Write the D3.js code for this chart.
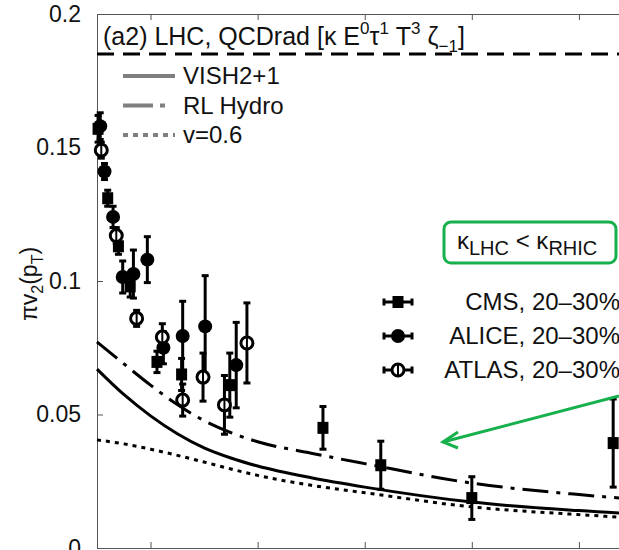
<!DOCTYPE html>
<meta charset="utf-8">
<title>LHC v2</title>
<style>
  body { margin: 0; background: #fff; }
  svg text { font-family: "Liberation Sans", Arial, sans-serif; fill: #111; }
</style>
<body>
<script src="https://d3js.org/d3.v7.min.js"></script>
<script type="text/javascript">

// ---- data (pT in GeV, y = pi*v2) ----
var curveX   = [5, 7.5, 10, 12.5, 15, 17.5, 20, 25, 30, 40, 50, 60];
var vishY    = [0.067, 0.0575, 0.0495, 0.0428, 0.0375, 0.0337, 0.0307, 0.0263, 0.0228, 0.0172, 0.0140, 0.0118];
var rlHydroY = [0.0772, 0.0690, 0.0610, 0.0537, 0.0477, 0.0432, 0.0398, 0.0355, 0.0316, 0.0243, 0.0200, 0.0170];
var v06Y     = [0.0405, 0.0390, 0.0370, 0.0347, 0.0322, 0.0296, 0.0272, 0.0235, 0.0207, 0.0154, 0.0125, 0.0102];

var cmsX   = [5.1, 6.0, 7.0, 8.1, 10.6, 12.9, 17.4, 26.1, 31.5, 40.0, 53.2];
var cmsY   = [0.157, 0.131, 0.113, 0.098, 0.0697, 0.065, 0.061, 0.045, 0.031, 0.0187, 0.0393];
var cmsErr = [0.005, 0.003, 0.003, 0.004, 0.004, 0.006, 0.012, 0.008, 0.009, 0.008, 0.0165];

var aliceX   = [5.3, 5.7, 6.5, 7.4, 8.4, 9.7, 11.2, 13.0, 15.1, 18.0];
var aliceY   = [0.158, 0.141, 0.124, 0.1015, 0.1026, 0.108, 0.075, 0.0794, 0.083, 0.0685];
var aliceErr = [0.005, 0.003, 0.004, 0.006, 0.009, 0.0086, 0.006, 0.013, 0.019, 0.016];

var atlasX   = [5.4, 6.8, 8.7, 11.1, 13.0, 14.9, 16.9, 19.0];
var atlasY   = [0.149, 0.117, 0.086, 0.079, 0.0554, 0.064, 0.0536, 0.0768];
var atlasErr = [0.003, 0.003, 0.003, 0.005, 0.006, 0.009, 0.011, 0.015];

var yTicks = [0, 0.05, 0.1, 0.15, 0.2];
var xTicks = [10, 20, 30, 40, 50];
var xDomain = [5, 60];
var yDomain = [0, 0.2];
var ceiling = 0.185;

var width = 619, height = 550;
var svg = d3.select("body").append("svg")
    .attr("width", width)
    .attr("height", height);

var x = d3.scaleLinear().domain(xDomain).range([97, 686]);
var y = d3.scaleLinear().domain(yDomain).range([548, 14]);

// frame + ticks
var axisColor = "#555";
svg.append("g").attr("transform", "translate(0,548)")
  .call(d3.axisBottom(x).tickValues(xTicks).tickSize(-6).tickFormat(""))
  .call(function(g){ g.selectAll("line,path").attr("stroke", axisColor); });
svg.append("g").attr("transform", "translate(0,14)")
  .call(d3.axisTop(x).tickValues(xTicks).tickSize(-6).tickFormat(""))
  .call(function(g){ g.selectAll("line,path").attr("stroke", axisColor); });
svg.append("g").attr("transform", "translate(97,0)")
  .call(d3.axisLeft(y).tickValues(yTicks).tickSize(-6).tickPadding(16)
        .tickFormat(function(d){ return d === 0 ? "0" : String(+d.toFixed(2)); }))
  .call(function(g){
    g.selectAll("line,path").attr("stroke", axisColor);
    g.selectAll("text").attr("font-size", 23).attr("font-family", "Liberation Sans, Arial, sans-serif").attr("fill", "#111");
  });

// y label
var yl = svg.append("text")
  .attr("transform", "translate(37," + 284 + ") rotate(-90)")
  .attr("text-anchor", "middle")
  .attr("font-size", 23);
yl.append("tspan").text("\u03c0v");
yl.append("tspan").attr("font-size", 16).attr("dy", 6).text("2");
yl.append("tspan").attr("dy", -6).text("(p");
yl.append("tspan").attr("font-size", 16).attr("dy", 6).text("T");
yl.append("tspan").attr("dy", -6).text(")");

// dashed ceiling
svg.append("line")
  .attr("x1", x(xDomain[0])).attr("x2", x(xDomain[1]))
  .attr("y1", y(ceiling)).attr("y2", y(ceiling))
  .attr("stroke", "#000").attr("stroke-width", 3)
  .attr("stroke-dasharray", "17,9");

// title
var t = svg.append("text").attr("x", 103).attr("y", 45).attr("font-size", 25);
t.append("tspan").text("(a2) LHC, QCDrad [\u03ba E");
t.append("tspan").attr("font-size", 17).attr("dy", -11).text("0");
t.append("tspan").attr("dy", 11).text("\u03c4");
t.append("tspan").attr("font-size", 17).attr("dy", -11).text("1");
t.append("tspan").attr("dy", 11).text(" T");
t.append("tspan").attr("font-size", 17).attr("dy", -11).text("3");
t.append("tspan").attr("dy", 11).text(" \u03b6");
t.append("tspan").attr("font-size", 17).attr("dy", 7).text("\u22121");
t.append("tspan").attr("dy", -7).text("]");

// model curves
var line = d3.line().x(function(d){ return x(d[0]); }).y(function(d){ return y(d[1]); })
  .curve(d3.curveMonotoneX);
var curves = [
  { ys: vishY, dash: null, name: "VISH2+1" },
  { ys: rlHydroY, dash: "26,8,4,8", name: "RL Hydro" },
  { ys: v06Y, dash: "4,5", name: "v=0.6" }
];
curves.forEach(function(c){
  svg.append("path")
    .datum(d3.zip(curveX, c.ys))
    .attr("d", line)
    .attr("fill", "none")
    .attr("stroke", "#000")
    .attr("stroke-width", 3)
    .attr("stroke-dasharray", c.dash);
});

// line legend
curves.forEach(function(c, i){
  var ly = 76 + i * 29.5;
  svg.append("line").attr("x1", 123).attr("x2", 175).attr("y1", ly).attr("y2", ly)
    .attr("stroke", "#7f7f7f").attr("stroke-width", 4)
    .attr("stroke-dasharray", i === 0 ? null : (i === 1 ? "30,7,5,20" : "5,5"));
  svg.append("text").attr("x", 183).attr("y", ly + 8).attr("font-size", 24).text(c.name);
});

// data points
function marker(g, kind, cx, cy) {
  if (kind === "square") {
    g.append("rect").attr("x", cx - 5.5).attr("y", cy - 6).attr("width", 11).attr("height", 12).attr("fill", "#000");
  } else if (kind === "filled") {
    g.append("circle").attr("cx", cx).attr("cy", cy).attr("r", 7).attr("fill", "#000");
  } else {
    g.append("circle").attr("cx", cx).attr("cy", cy).attr("r", 6).attr("fill", "#fff")
      .attr("stroke", "#000").attr("stroke-width", 3);
    g.append("line").attr("x1", cx).attr("x2", cx).attr("y1", cy - 6).attr("y2", cy + 6)
      .attr("stroke", "#000").attr("stroke-width", 2);
  }
}
function errBar(g, cx, y0, y1) {
  g.append("line").attr("x1", cx).attr("x2", cx).attr("y1", y0).attr("y2", y1)
    .attr("stroke", "#000").attr("stroke-width", 3);
  [y0, y1].forEach(function(yy){
    g.append("line").attr("x1", cx - 3.5).attr("x2", cx + 3.5).attr("y1", yy).attr("y2", yy)
      .attr("stroke", "#000").attr("stroke-width", 3);
  });
}
var sets = [
  { xs: cmsX, ys: cmsY, es: cmsErr, kind: "square", label: "CMS, 20\u201330%" },
  { xs: aliceX, ys: aliceY, es: aliceErr, kind: "filled", label: "ALICE, 20\u201330%" },
  { xs: atlasX, ys: atlasY, es: atlasErr, kind: "open", label: "ATLAS, 20\u201330%" }
];
var pts = svg.append("g");
sets.forEach(function(s){
  s.xs.forEach(function(xv, i){
    errBar(pts, x(xv), y(s.ys[i] + s.es[i]), y(s.ys[i] - s.es[i]));
  });
});
sets.forEach(function(s){
  s.xs.forEach(function(xv, i){ marker(pts, s.kind, x(xv), y(s.ys[i])); });
});

// data legend
sets.forEach(function(s, i){
  var ly = 302 + i * 34;
  var g = svg.append("g");
  g.append("line").attr("x1", 384).attr("x2", 412).attr("y1", ly).attr("y2", ly)
    .attr("stroke", "#000").attr("stroke-width", 3);
  [384, 412].forEach(function(xx){
    g.append("line").attr("x1", xx).attr("x2", xx).attr("y1", ly - 3.5).attr("y2", ly + 3.5)
      .attr("stroke", "#000").attr("stroke-width", 3);
  });
  marker(g, s.kind, 398, ly);
  svg.append("text").attr("x", 620).attr("y", ly + 8).attr("text-anchor", "end")
    .attr("font-size", 24).text(s.label);
});

// annotation box + arrow
var green = "#16b04c";
svg.append("rect").attr("x", 444).attr("y", 222).attr("width", 172).attr("height", 41)
  .attr("rx", 7).attr("fill", "none").attr("stroke", green).attr("stroke-width", 3);
var k = svg.append("text").attr("x", 457).attr("y", 249).attr("font-size", 24);
k.append("tspan").text("\u03ba");
k.append("tspan").attr("font-size", 20).attr("dy", 6).text("LHC");
k.append("tspan").attr("dy", -6).text(" < \u03ba");
k.append("tspan").attr("font-size", 20).attr("dy", 6).text("RHIC");

svg.append("line").attr("x1", 619).attr("y1", 396).attr("x2", 443).attr("y2", 442)
  .attr("stroke", green).attr("stroke-width", 3);
svg.append("polyline").attr("points", "458,432 443,442 458,448")
  .attr("fill", "none").attr("stroke", green).attr("stroke-width", 3)
  .attr("stroke-linejoin", "miter");

</script>
</body>
